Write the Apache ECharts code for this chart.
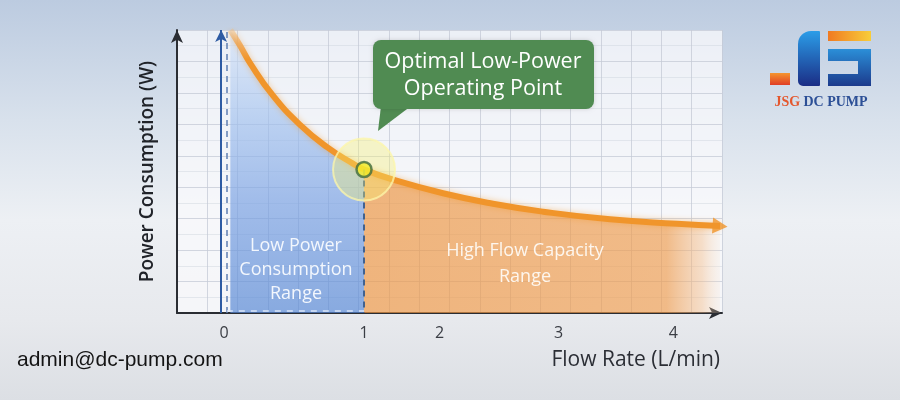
<!DOCTYPE html>
<html>
<head>
<meta charset="utf-8">
<script src="https://cdn.jsdelivr.net/npm/echarts@6/dist/echarts.min.js"></script>
<style>
html,body{margin:0;padding:0;background:#e6ebf2;}
#chart{width:900px;height:400px;}
</style>
</head>
<body>
<div id="chart"></div>
<script>
// ---- data ----
const flowRate = [0.045, 0.114, 0.186, 0.35, 0.543, 0.736, 0.921, 1.0, 1.207, 1.564, 1.921, 2.279, 2.757, 3.236, 3.543];
const power    = [10.0, 9.45, 8.83, 7.68, 6.65, 5.86, 5.28, 5.07, 4.71, 4.23, 3.86, 3.58, 3.31, 3.15, 3.07];
const optimalFlow = 1.0;
const optimalPower = 5.07;
const xTickLabels = ['0', '1', '2', '3', '4'];
const xTickPos = [0, 1, 1.54, 2.39, 3.21];
const lowRangeStart = 0.02;
const lowRangeLines = ['Low Power', 'Consumption', 'Range'];
const highRangeLines = ['High Flow Capacity', 'Range'];
const calloutLines = ['Optimal Low-Power', 'Operating Point'];

const curve = flowRate.map((f, i) => [f, power[i]]);
const lowRange = curve.filter(p => p[0] <= optimalFlow);
const highRange = curve.filter(p => p[0] >= optimalFlow);

const chart = echarts.init(document.getElementById('chart'), null, {renderer: 'canvas'});
const font = '"Open Sans", "Noto Sans", sans-serif';
const SMOOTH = 0.5;

const option = {
  animation: false,
  grid: {left: 177, right: 178, top: 30, bottom: 87, show: true, backgroundColor: 'rgba(249,250,252,0.75)', borderWidth: 0},
  xAxis: [{
    type: 'value', min: -0.336, max: 3.557,
    axisLine: {show: true, onZero: false, symbol: ['none', 'arrow'], symbolSize: [9, 13], lineStyle: {color: '#2a2d33', width: 2}},
    axisTick: {show: false},
    splitLine: {show: false},
    axisLabel: {
      customValues: xTickPos, margin: 12, fontSize: 16, color: '#3a3d44', fontFamily: font,
      formatter: function (v) {
        let best = 0;
        xTickPos.forEach((p, i) => { if (Math.abs(p - v) < Math.abs(xTickPos[best] - v)) best = i; });
        return xTickLabels[best];
      }
    },
    name: 'Flow Rate (L/min)', nameLocation: 'end', nameGap: -2,
    nameTextStyle: {align: 'right', verticalAlign: 'top', padding: [37, 0, 0, 0], fontSize: 21, color: '#2b2e35', fontFamily: font}
  }, {
    type: 'value', min: 0, max: 18, interval: 1, show: true,
    axisLine: {show: false}, axisTick: {show: false}, axisLabel: {show: false},
    splitLine: {show: true, lineStyle: {color: 'rgba(196,202,214,0.75)', width: 1}}
  }],
  yAxis: [{
    type: 'value', min: 0, max: 10,
    axisLine: {show: true, onZero: false, symbol: ['none', 'arrow'], symbolSize: [9, 13], lineStyle: {color: '#2a2d33', width: 2}},
    axisTick: {show: false}, axisLabel: {show: false}, splitLine: {show: false},
    name: 'Power Consumption (W)', nameLocation: 'middle', nameGap: 20,
    nameTextStyle: {fontSize: 19, color: '#202329', fontFamily: font, fontWeight: 600}
  }, {
    type: 'value', min: 0, max: 9, interval: 1, show: true,
    axisLine: {show: false}, axisTick: {show: false}, axisLabel: {show: false},
    splitLine: {show: true, lineStyle: {color: 'rgba(196,202,214,0.75)', width: 1}},
    minorTick: {show: false, splitNumber: 2},
    minorSplitLine: {show: true, lineStyle: {color: 'rgba(205,210,220,0.45)', width: 1}}
  }],
  series: [
    {
      name: 'Low power range', type: 'line', data: lowRange, smooth: SMOOTH, symbol: 'none', z: 1,
      lineStyle: {width: 0},
      areaStyle: {
        color: {type: 'linear', x: 0, y: 0, x2: 0, y2: 1, colorStops: [
          {offset: 0, color: 'rgba(210,225,247,0.8)'},
          {offset: 0.3, color: 'rgba(160,192,238,0.92)'},
          {offset: 0.6, color: 'rgba(120,160,226,0.96)'},
          {offset: 1, color: 'rgba(86,135,212,0.98)'}
        ]}
      },
      markLine: {
        silent: true, symbol: 'none', label: {show: false},
        data: [
          [{coord: [lowRangeStart, 0], lineStyle: {color: '#5f7fb3', type: [6, 5], width: 1.5}}, {coord: [lowRangeStart, 10]}],
          [{coord: [optimalFlow, optimalPower], lineStyle: {color: '#42628f', type: [6, 5], width: 2}}, {coord: [optimalFlow, 0]}],
          [{coord: [lowRangeStart, 0.08], lineStyle: {color: 'rgba(225,235,250,0.9)', type: [6, 6], width: 1.5}}, {coord: [optimalFlow, 0.08]}]
        ]
      }
    },
    {
      name: 'High flow range', type: 'line', data: highRange, smooth: SMOOTH, symbol: 'none', z: 1,
      lineStyle: {width: 0},
      areaStyle: {
        color: {type: 'linear', x: 0, y: 0, x2: 1, y2: 0, colorStops: [
          {offset: 0, color: 'rgba(236,150,68,0.98)'},
          {offset: 0.85, color: 'rgba(238,156,78,0.95)'},
          {offset: 0.95, color: 'rgba(244,188,136,0.62)'},
          {offset: 1, color: 'rgba(250,225,200,0.25)'}
        ]}
      }
    },
    {
      name: 'Axis marker', type: 'line', data: [], z: 3,
      markLine: {
        silent: true, label: {show: false}, symbol: ['none', 'arrow'], symbolSize: [9, 12],
        lineStyle: {color: '#2e5ba3', width: 2, type: 'solid'},
        data: [[{coord: [-0.021, 0]}, {coord: [-0.021, 10]}]]
      }
    },
    {
      name: 'Power curve', type: 'line', data: curve, smooth: SMOOTH, symbol: 'none', z: 4,
      lineStyle: {
        width: 6, shadowBlur: 6, shadowColor: 'rgba(240,150,40,0.45)',
        color: {type: 'linear', x: 0, y: 0, x2: 0, y2: 1, colorStops: [
          {offset: 0, color: 'rgba(246,190,120,0.3)'},
          {offset: 0.08, color: 'rgba(242,162,72,0.8)'},
          {offset: 0.16, color: '#f0952b'},
          {offset: 1, color: '#f0952b'}
        ]}
      }
    },
    {
      name: 'Curve arrow', type: 'scatter', data: [curve[curve.length - 1]], z: 5,
      symbol: 'triangle', symbolSize: [16, 15], symbolRotate: -94,
      itemStyle: {color: '#f0952b'}
    },
    {
      name: 'Highlight', type: 'scatter', data: [[optimalFlow, optimalPower]], z: 6,
      symbolSize: 62,
      itemStyle: {color: 'rgba(248,240,110,0.45)', borderColor: 'rgba(252,246,170,0.95)', borderWidth: 2}
    },
    {
      name: 'Optimal point', type: 'scatter', data: [[optimalFlow, optimalPower]], z: 7,
      symbolSize: 15,
      itemStyle: {color: '#f1ec2b', borderColor: '#3d6a3f', borderWidth: 2.5}
    }
  ],
  graphic: [
    {type: 'rect', z: -20, silent: true, shape: {x: 0, y: 0, width: 900, height: 400},
      style: {fill: {type: 'linear', x: 0, y: 0, x2: 0, y2: 1, colorStops: [
        {offset: 0, color: '#bccbe0'}, {offset: 0.3, color: '#d8e1ec'},
        {offset: 0.55, color: '#edf0f4'}, {offset: 0.8, color: '#e7e9ed'}, {offset: 1, color: '#dcdfe4'}
      ]}}},
    // callout
    {type: 'polygon', z: 20, shape: {points: [[381, 106], [411, 106], [378, 131]]}, style: {fill: '#508b52'}},
    {type: 'rect', z: 20, shape: {x: 373, y: 40, width: 221, height: 69, r: 8}, style: {fill: '#508b52', shadowBlur: 4, shadowColor: 'rgba(0,0,0,0.15)'}},
    {type: 'text', z: 21, style: {text: calloutLines.join('\n'), x: 483, y: 48, align: 'center', verticalAlign: 'top', lineHeight: 27, fill: '#ffffff', font: '21.5px ' + font}},
    // region labels
    {type: 'text', z: 21, style: {text: lowRangeLines.join('\n'), x: 296, y: 234, align: 'center', verticalAlign: 'top', lineHeight: 24, fill: '#f3f7fd', font: '18px ' + font}},
    {type: 'text', z: 21, style: {text: highRangeLines.join('\n'), x: 525, y: 238, align: 'center', verticalAlign: 'top', lineHeight: 26, fill: '#fdf6ee', font: '18px ' + font}},
    // email
    {type: 'text', z: 21, style: {text: 'admin@dc-pump.com', x: 17, y: 360, align: 'left', verticalAlign: 'middle', fill: '#141414', font: '21px "Liberation Sans", Arial, sans-serif'}},
    // logo
    {type: 'rect', z: 21, shape: {x: 770, y: 73, width: 20, height: 12}, style: {fill: {type: 'linear', x: 0, y: 0, x2: 0, y2: 1, colorStops: [{offset: 0, color: '#f5952f'}, {offset: 1, color: '#e03e25'}]}}},
    {type: 'rect', z: 21, shape: {x: 798, y: 31, width: 22, height: 55, r: [13, 1, 1, 5]}, style: {fill: {type: 'linear', x: 0, y: 0, x2: 0, y2: 1, colorStops: [{offset: 0, color: '#2b9de8'}, {offset: 1, color: '#1b2d85'}]}}},
    {type: 'rect', z: 21, shape: {x: 828, y: 31, width: 43, height: 10}, style: {fill: {type: 'linear', x: 0, y: 0, x2: 1, y2: 0, colorStops: [{offset: 0, color: '#f07a22'}, {offset: 1, color: '#f8cd3a'}]}}},
    {type: 'polygon', z: 21, shape: {points: [[828, 49], [871, 49], [871, 86], [828, 86], [828, 74], [858, 74], [858, 61], [828, 61]]}, style: {fill: {type: 'linear', x: 0, y: 0, x2: 0, y2: 1, colorStops: [{offset: 0, color: '#2b8fd8'}, {offset: 1, color: '#1c3a8c'}]}}},
    {type: 'text', z: 21, style: {text: '{a|JSG} {b|DC PUMP}', x: 821, y: 102, align: 'center', verticalAlign: 'middle',
      rich: {a: {fill: '#e4572e', font: 'bold 14px "Liberation Serif", "DejaVu Serif", serif'}, b: {fill: '#2c4f96', font: 'bold 14px "Liberation Serif", "DejaVu Serif", serif'}}}}
  ]
};
chart.setOption(option);
</script>
</body>
</html>
